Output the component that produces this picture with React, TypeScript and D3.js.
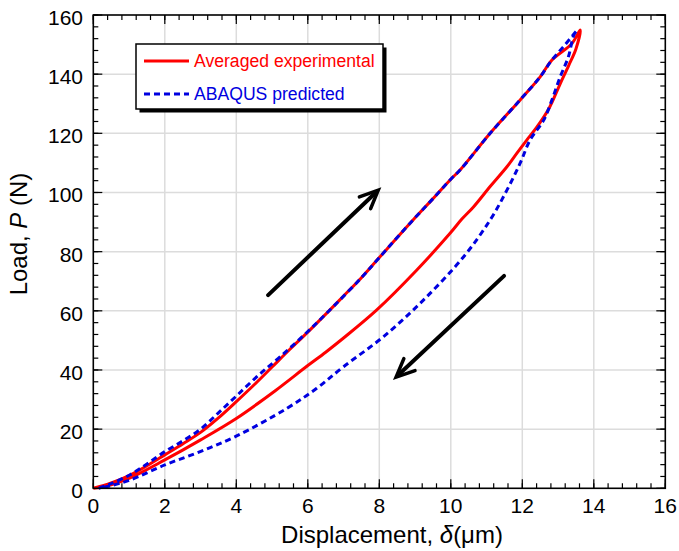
import React from "react";
import * as d3 from "d3";

const xTicks = [0, 2, 4, 6, 8, 10, 12, 14, 16];
const yTicks = [0, 20, 40, 60, 80, 100, 120, 140, 160];

const seriesNames = ["Averaged experimental", "ABAQUS predicted"];

// Averaged experimental: loading then unloading
const expX = [0, 0.5, 1.03, 1.5, 2.0, 2.5, 3.0, 3.5, 4.0, 4.5, 5.0, 5.5, 6.0, 6.71, 7.0, 7.5, 8.0, 8.95, 9.47, 10.0, 10.26, 11.1, 11.94, 12.5, 12.83, 13.39, 13.62,
  13.5, 13.3, 13.05, 12.75, 12.4, 12.13, 11.85, 11.57, 11.1, 10.64, 10.31, 9.98, 9.05, 7.93, 7.0, 6.5, 6.0, 5.09, 4.01, 2.99, 2.0, 1.03, 0.5, 0];
const expY = [0, 1.8, 4.5, 7.6, 11.3, 15.0, 18.9, 23.8, 29.3, 35.0, 41.0, 47.0, 52.8, 61.4, 65.0, 71.2, 78.0, 90.8, 97.5, 104.5, 107.6, 120.0, 131.3, 139.1, 144.8, 150.4, 154.9,
  148.5, 143.0, 136.5, 128.5, 122.0, 117.8, 113.3, 108.7, 102.0, 95.2, 91.0, 86.2, 73.8, 60.3, 50.8, 46.0, 41.5, 33.0, 23.7, 16.3, 9.6, 3.5, 1.2, 0];

// ABAQUS predicted: loading then unloading
const abqX = [0.15, 0.5, 1.03, 1.5, 2.0, 2.5, 2.99, 3.5, 4.01, 4.6, 5.23, 6.0, 6.71, 7.5, 8.0, 8.95, 9.47, 10.0, 10.26, 11.1, 11.94, 12.5, 12.83, 13.2, 13.53,
  13.44, 13.29, 13.06, 12.83, 12.6, 12.22, 11.94, 11.57, 11.1, 10.36, 9.24, 8.12, 7.0, 6.25, 5.41, 4.01, 2.99, 2.0, 1.03, 0.5, 0.15];
const abqY = [0, 1.6, 4.6, 8.2, 12.4, 16.0, 19.9, 25.5, 31.3, 38.0, 44.5, 53.0, 61.4, 71.2, 78.0, 90.8, 97.5, 104.5, 107.6, 120.0, 131.3, 139.1, 144.8, 150.0, 154.8,
  153.2, 145.9, 139.1, 131.3, 124.5, 117.8, 109.9, 100.8, 90.7, 78.3, 63.7, 51.3, 41.1, 33.8, 27.0, 17.7, 12.4, 7.9, 2.8, 0.9, 0];

// Arrow annotations (data coordinates): [x1, y1, x2, y2]
const arrowUp = [4.89, 65.3, 7.97, 100.8];
const arrowDown = [11.49, 71.8, 8.47, 37.6];

const W = 679, H = 551;
const L = 93.3, R = 665.3, T = 15, B = 488.3;

export default function App() {
  const x = d3.scaleLinear().domain([0, 16]).range([L, R]);
  const y = d3.scaleLinear().domain([0, 160]).range([B, T]);
  const mk = (xs: number[], ys: number[]) =>
    d3.line<number>()
      .x((d) => x(xs[d]))
      .y((d) => y(ys[d]))
      .curve(d3.curveCatmullRom.alpha(0.5))(d3.range(xs.length)) || "";

  const xMinor = d3.range(0, 16.001, 0.4);
  const yMinor = d3.range(0, 160.001, 4);

  const font = "Liberation Sans, Arial, sans-serif";

  const arrow = (a: number[], key: string) => {
    const x1 = x(a[0]), y1 = y(a[1]), x2 = x(a[2]), y2 = y(a[3]);
    const ang = Math.atan2(y2 - y1, x2 - x1);
    const hl = 20, hw = 0.42;
    const p1 = [x2 - hl * Math.cos(ang - hw), y2 - hl * Math.sin(ang - hw)];
    const p2 = [x2 - hl * Math.cos(ang + hw), y2 - hl * Math.sin(ang + hw)];
    return (
      <g key={key} stroke="#000" strokeWidth={4} strokeLinecap="round" fill="none">
        <line x1={x1} y1={y1} x2={x2 - 3 * Math.cos(ang)} y2={y2 - 3 * Math.sin(ang)} />
        <path d={`M${p1[0]},${p1[1]} L${x2},${y2} L${p2[0]},${p2[1]}`} strokeLinejoin="miter" strokeWidth={3.5} />
      </g>
    );
  };

  return (
    <svg width={W} height={H} style={{ position: "absolute", left: 0, top: 0 }} fontFamily={font}>
      <rect x={0} y={0} width={W} height={H} fill="#fff" />
      {/* grid */}
      <g stroke="#dcdcdc" strokeWidth={1.5}>
        {xTicks.slice(1, -1).map((t) => (
          <line key={"gx" + t} x1={x(t)} x2={x(t)} y1={T} y2={B} />
        ))}
        {yTicks.slice(1, -1).map((t) => (
          <line key={"gy" + t} x1={L} x2={R} y1={y(t)} y2={y(t)} />
        ))}
      </g>
      {/* ticks */}
      <g stroke="#000" strokeWidth={1.2}>
        {xMinor.map((t, i) => (
          <g key={"mx" + i}>
            <line x1={x(t)} x2={x(t)} y1={B} y2={B - 5} />
            <line x1={x(t)} x2={x(t)} y1={T} y2={T + 5} />
          </g>
        ))}
        {yMinor.map((t, i) => (
          <g key={"my" + i}>
            <line x1={L} x2={L + 5} y1={y(t)} y2={y(t)} />
            <line x1={R} x2={R - 5} y1={y(t)} y2={y(t)} />
          </g>
        ))}
        {xTicks.map((t) => (
          <g key={"Mx" + t}>
            <line x1={x(t)} x2={x(t)} y1={B} y2={B - 9} />
            <line x1={x(t)} x2={x(t)} y1={T} y2={T + 9} />
          </g>
        ))}
        {yTicks.map((t) => (
          <g key={"My" + t}>
            <line x1={L} x2={L + 9} y1={y(t)} y2={y(t)} />
            <line x1={R} x2={R - 9} y1={y(t)} y2={y(t)} />
          </g>
        ))}
      </g>
      {/* curves */}
      <path d={mk(expX, expY)} fill="none" stroke="#ff0000" strokeWidth={3} strokeLinejoin="round" />
      <path d={mk(abqX, abqY)} fill="none" stroke="#0000e0" strokeWidth={3} strokeDasharray="6,4" strokeLinejoin="round" />
      {/* frame */}
      <rect x={L} y={T} width={R - L} height={B - T} fill="none" stroke="#000" strokeWidth={1.6} />
      {/* arrows */}
      {arrow(arrowUp, "up")}
      {arrow(arrowDown, "down")}
      {/* tick labels */}
      <g fontSize={21} fill="#000">
        {xTicks.map((t) => (
          <text key={"tx" + t} x={x(t)} y={512.5} textAnchor="middle">{t}</text>
        ))}
        {yTicks.map((t) => (
          <text key={"ty" + t} x={83} y={y(t) + 10} textAnchor="end">{t}</text>
        ))}
      </g>
      {/* axis labels */}
      <text x={392} y={543} fontSize={24} textAnchor="middle">
        Displacement, <tspan fontStyle="italic">δ</tspan>(μm)
      </text>
      <text transform="translate(26.5,234) rotate(-90)" fontSize={24} textAnchor="middle">
        Load, <tspan fontStyle="italic">P</tspan> (N)
      </text>
      {/* legend */}
      <rect x={139.5} y={47.5} width={247} height={65} fill="#000" />
      <rect x={136} y={44} width={247} height={65} fill="#fff" stroke="#000" strokeWidth={1.5} />
      <line x1={144} x2={189} y1={61} y2={61} stroke="#ff0000" strokeWidth={3} />
      <line x1={144} x2={189} y1={94} y2={94} stroke="#0000e0" strokeWidth={3} strokeDasharray="6,4" />
      <text x={194} y={67} fontSize={17.6} fill="#ff0000">{seriesNames[0]}</text>
      <text x={194} y={100} fontSize={17.6} fill="#0000e0">{seriesNames[1]}</text>
    </svg>
  );
}
